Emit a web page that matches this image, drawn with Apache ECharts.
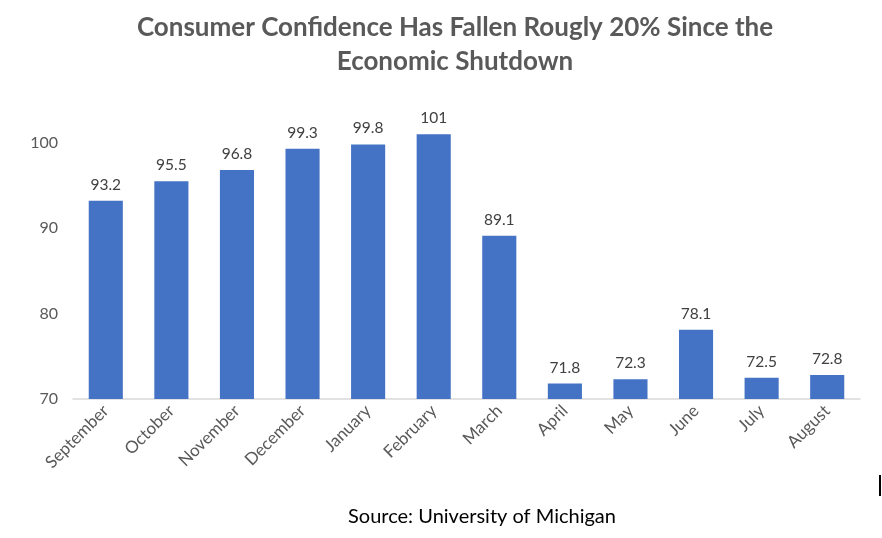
<!DOCTYPE html>
<html><head><meta charset="utf-8">
<script src="https://cdn.jsdelivr.net/npm/echarts@6/dist/echarts.min.js"></script>
<style>html,body{margin:0;padding:0;background:#fff}#c{width:882px;height:538px}</style>
</head><body><div id="c"></div>
<script>
const categories = ["September","October","November","December","January","February","March","April","May","June","July","August"];
const values = [93.2,95.5,96.8,99.3,99.8,101,89.1,71.8,72.3,78.1,72.5,72.8];
const yTicks = [70,80,90,100];
const titleLines = ["Consumer Confidence Has Fallen Rougly 20% Since the","Economic Shutdown"];
const sourceText = "Source: University of Michigan";

const chart = echarts.init(document.getElementById('c'));
chart.setOption({
  animation:false,
  title:{text:titleLines.join('\n'), left:450, top:6, textAlign:'center',
    textStyle:{fontFamily:'Lato', fontWeight:'bold', fontSize:26, color:'#595959', lineHeight:34}},
  grid:{left:73, right:22, top:100, bottom:139},
  xAxis:{type:'category', data:categories,
    axisLine:{lineStyle:{color:'#d9d9d9', width:1.5}}, axisTick:{show:false},
    axisLabel:{rotate:45, fontFamily:'Lato', fontSize:17, color:'#595959', margin:9, interval:0}},
  yAxis:{type:'value', min:70, max:105, interval:10,
    splitLine:{show:false}, axisLine:{show:false}, axisTick:{show:false},
    axisLabel:{fontFamily:'Lato', fontSize:16, color:'#595959', margin:15,
      formatter:v=>yTicks.includes(v)?String(v):''}},
  series:[{type:'bar', data:values, barWidth:'52%', itemStyle:{color:'#4472c4'},
    label:{show:true, position:'top', distance:8, fontFamily:'Lato', fontSize:15.5, color:'#404040'}}],
  graphic:[
    {type:'text', x:482, y:507, style:{text:sourceText, fontFamily:'Lato', fontSize:20, fill:'#000', textAlign:'center'}},
    {type:'rect', shape:{x:879, y:475, width:2, height:21}, style:{fill:'#000'}}
  ]
});
</script></body></html>
